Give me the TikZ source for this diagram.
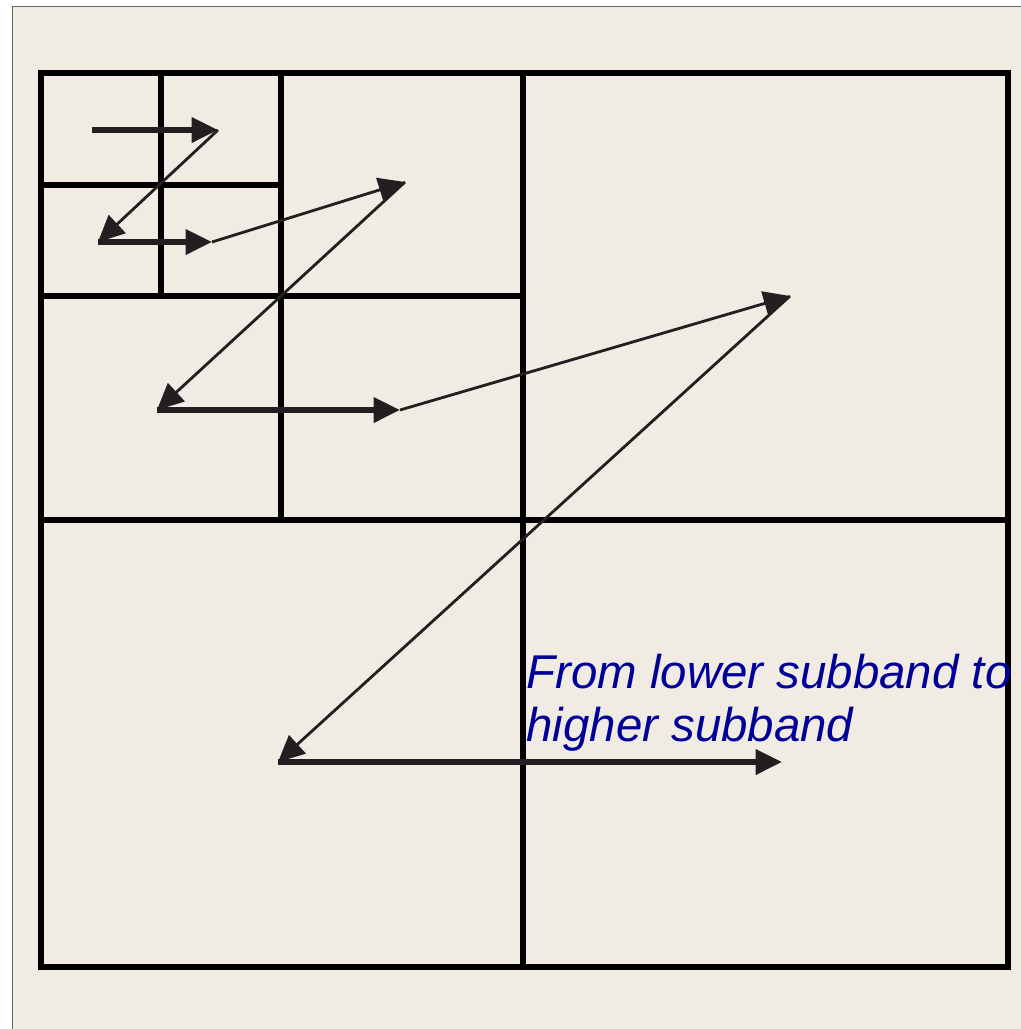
\documentclass[tikz,border=0pt]{standalone}
\usepackage{fontspec}
\setsansfont{Liberation Sans}
\usetikzlibrary{arrows.meta}
\definecolor{paper}{HTML}{F0ECE3}
\definecolor{ink}{HTML}{231F20}
\definecolor{note}{HTML}{000099}

\begin{document}
\begin{tikzpicture}[x=0.02cm,y=-0.02cm,>={Triangle[length=15pt,width=14pt]},
  band/.style={line width=3.5pt},
  hop/.style={->,ink,line width=2.9pt},
  jump/.style={->,ink,line width=1.6pt}]
\useasboundingbox (0,0) rectangle (1021,1029);
\fill[paper] (12,6) rectangle (1021,1029);
\draw[black!60,line width=1pt] (12.5,1029) -- (12.5,6.5) -- (1021,6.5);
% subband grid
\draw[band] (41,73) rectangle (1008,967);
\draw[band] (523,73) -- (523,967) (41,520) -- (1008,520);
\draw[band] (281,73) -- (281,520) (41,296) -- (523,296);
\draw[band] (161,73) -- (161,296) (41,185) -- (281,185);
% scan order
\foreach \n/\x/\y in {a/92/130,b/218/130,c/98/242,d/212/242,e/405/182,f/157/410,g/400/410,h/790/296,i/278/762,j/782/762}
  \coordinate (\n) at (\x,\y);
\draw[hop] (a) -- (b); \draw[jump] (b) -- (c); \draw[hop] (c) -- (d);
\draw[jump] (d) -- (e); \draw[jump] (e) -- (f); \draw[hop] (f) -- (g);
\draw[jump] (g) -- (h); \draw[jump] (h) -- (i); \draw[hop] (i) -- (j);
\node[note,font=\sffamily\itshape\fontsize{27}{30}\selectfont,align=left,anchor=base west,inner sep=0] (lbl) at (526,741) {From lower subband to\\higher subband};
\end{tikzpicture}
\end{document}
